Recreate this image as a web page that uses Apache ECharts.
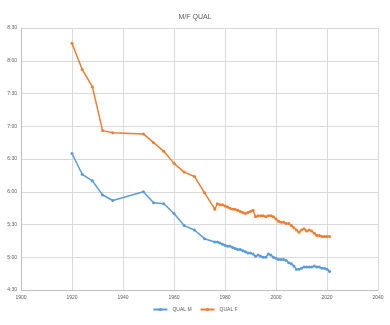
<!DOCTYPE html>
<html>
<head>
<meta charset="utf-8">
<script src="https://cdn.jsdelivr.net/npm/echarts@6/dist/echarts.min.js"></script>
<style>
  html, body { margin: 0; padding: 0; background: #fff; }
  #chart { width: 390px; height: 325px; }
</style>
</head>
<body>
<div id="chart"></div>
<script>
// Qualifying times in minutes, by year
const years = [1920, 1924, 1928, 1932, 1936, 1948, 1952, 1956, 1960, 1964, 1968, 1972,
  1976, 1977, 1978, 1979, 1980, 1981, 1982, 1983, 1984, 1985, 1986, 1987, 1988, 1989,
  1990, 1991, 1992, 1993, 1994, 1995, 1996, 1997, 1998, 1999, 2000, 2001, 2002, 2003,
  2004, 2005, 2006, 2007, 2008, 2009, 2010, 2011, 2012, 2013, 2014, 2015, 2016, 2017,
  2018, 2019, 2020, 2021];
const qualM = [395, 376, 370, 357, 352, 360, 350, 349, 340, 329, 325, 317,
  314, 314, 313, 312, 311, 310, 310, 309, 308, 307, 307, 306, 305, 304,
  304, 303, 301, 302, 301, 300, 300, 303, 302, 300, 299, 298, 298, 298,
  297, 295, 294, 292, 289, 289, 290, 291, 291, 291, 291, 292, 291, 291,
  290, 290, 289, 287];
const qualF = [496, 472, 456, 416, 414, 413, 405, 397, 386, 378, 374, 359,
  344, 349, 348, 348, 347, 346, 345, 344, 344, 343, 342, 341, 340, 341,
  342, 343, 337, 338, 338, 338, 337, 338, 338, 337, 335, 333, 332, 332,
  331, 331, 329, 327, 325, 323, 325, 326, 324, 325, 324, 322, 320, 320,
  319, 319, 319, 319];
const seriesNames = ['QUAL M', 'QUAL F'];
const chartTitle = 'M/F QUAL';

const pairs = (vals) => years.map((y, i) => [y, vals[i]]);
const fmtTime = (m) => Math.floor(m / 60) + ':' + String(m % 60).padStart(2, '0');

const chart = echarts.init(document.getElementById('chart'), null, { renderer: 'canvas' });
const txt = '#595959';
const grid = '#d9d9d9';
chart.setOption({
  backgroundColor: '#ffffff',
  animation: false,
  title: {
    text: chartTitle, left: 'center', top: 9,
    textStyle: { fontSize: 7, fontWeight: 'normal', color: txt, fontFamily: 'Liberation Sans' }
  },
  legend: {
    bottom: 8, left: 'center', itemWidth: 14, itemHeight: 4, itemGap: 8,
    textStyle: { fontSize: 5, color: txt, fontFamily: 'Liberation Sans' }
  },
  grid: { left: 21, right: 12, top: 28, bottom: 35, containLabel: false },
  xAxis: {
    type: 'value', min: 1900, max: 2040, interval: 20,
    axisLine: { show: true, lineStyle: { color: '#bfbfbf', width: 1 } },
    axisTick: { show: false },
    axisLabel: { fontSize: 5, color: txt, margin: 5, fontFamily: 'Liberation Sans', formatter: (v) => String(v) },
    splitLine: { show: true, lineStyle: { color: grid, width: 1 } }
  },
  yAxis: {
    type: 'value', min: 270, max: 510, interval: 30,
    axisLine: { show: true, lineStyle: { color: '#bfbfbf', width: 1 } },
    axisTick: { show: false },
    axisLabel: { fontSize: 5, color: txt, margin: 4, formatter: fmtTime, fontFamily: 'Liberation Sans' },
    splitLine: { show: true, lineStyle: { color: grid, width: 1 } }
  },
  series: [
    {
      name: seriesNames[0], type: 'line', data: pairs(qualM),
      symbol: 'circle', symbolSize: 3, showSymbol: true,
      itemStyle: { color: '#5b9bd5' }, lineStyle: { color: '#5b9bd5', width: 1.5 }
    },
    {
      name: seriesNames[1], type: 'line', data: pairs(qualF),
      symbol: 'circle', symbolSize: 3, showSymbol: true,
      itemStyle: { color: '#ed7d31' }, lineStyle: { color: '#ed7d31', width: 1.5 }
    }
  ]
});
</script>
</body>
</html>
